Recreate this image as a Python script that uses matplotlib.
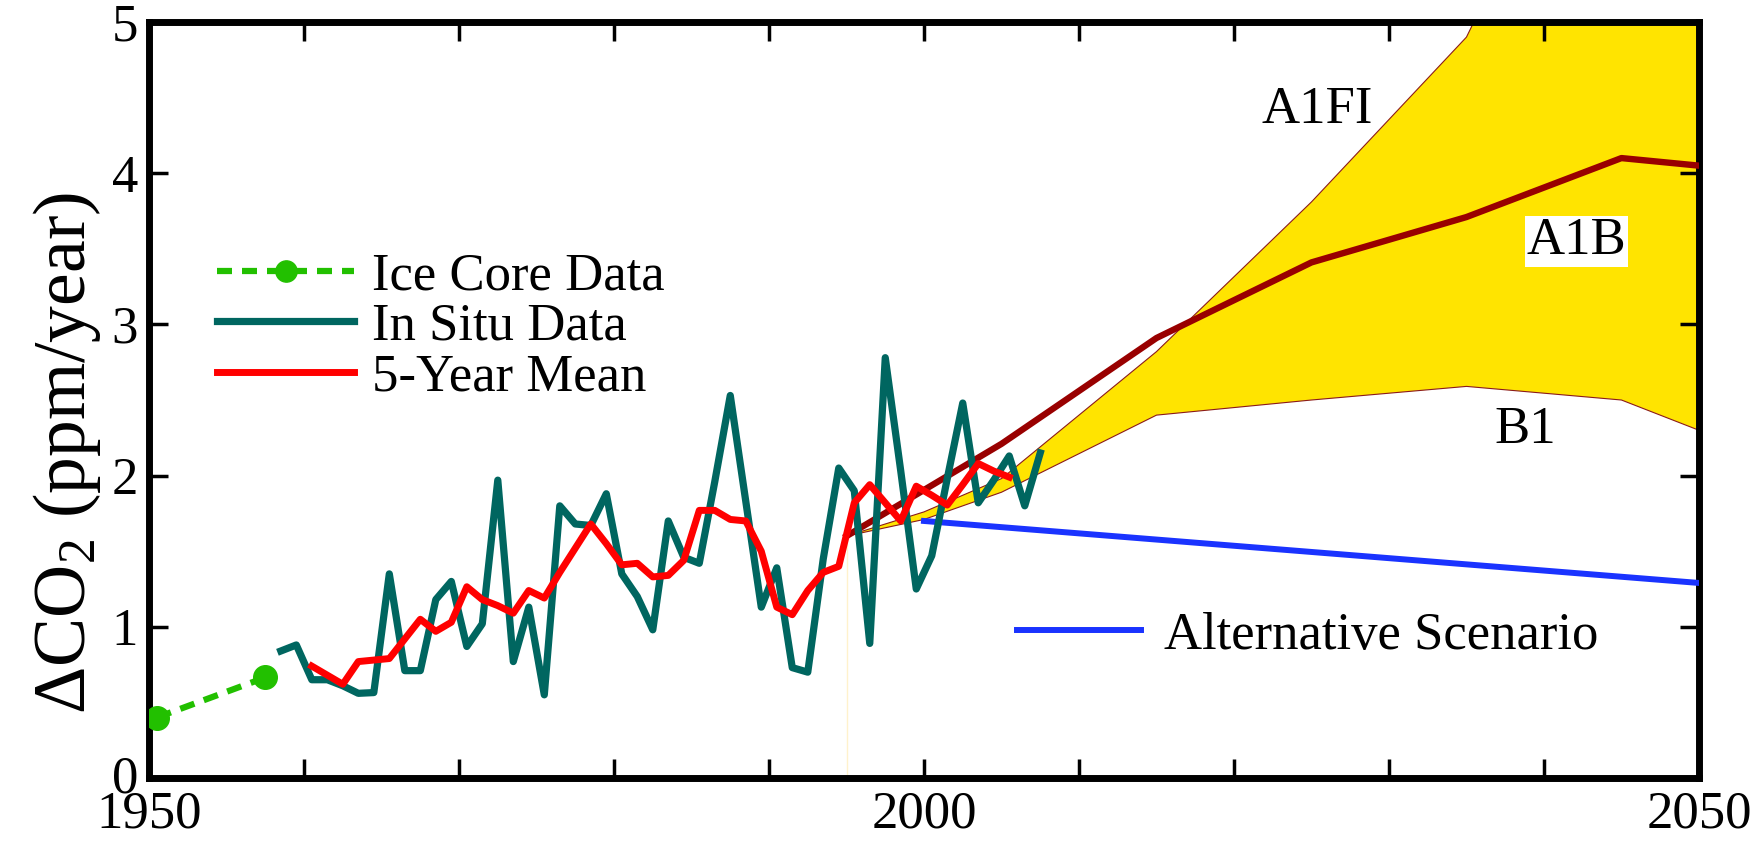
import numpy as np
import matplotlib
matplotlib.use("Agg")
import matplotlib.pyplot as plt
from matplotlib.lines import Line2D
from matplotlib.transforms import ScaledTranslation

plt.rcParams["font.family"] = ["Liberation Serif", "DejaVu Serif"]
plt.rcParams["mathtext.fontset"] = "custom"
plt.rcParams["mathtext.rm"] = "Liberation Serif"
plt.rcParams["mathtext.it"] = "Liberation Serif:italic"

# ── Data ─────────────────────────────────────────────────────────────────────
# ice core growth rates
ice_years = [1950.5, 1957.5]
ice_rate = [0.40, 0.665]

# in situ annual growth rate (ppm/yr), plotted at mid-year
insitu_years = np.arange(1958.5, 2008.0, 1.0)
insitu_rate = [0.84, 0.88, 0.65, 0.65, 0.61, 0.56, 0.565, 1.35, 0.71, 0.71,
               1.18, 1.30, 0.87, 1.02, 1.97, 0.77, 1.13, 0.55, 1.80, 1.68,
               1.67, 1.88, 1.35, 1.20, 0.98, 1.70, 1.46, 1.42, 1.96, 2.53,
               1.83, 1.13, 1.39, 0.73, 0.70, 1.45, 2.05, 1.90, 0.89, 2.78,
               2.03, 1.25, 1.47, 1.98, 2.48, 1.82, 1.97, 2.13, 1.80, 2.15]

# 5-year running mean
mean_years = np.arange(1960.5, 2006.0, 1.0)
mean_rate = [0.74, 0.68, 0.62, 0.77, 0.78, 0.79, 0.92, 1.05, 0.97, 1.03,
             1.265, 1.18, 1.14, 1.09, 1.24, 1.19, 1.36, 1.52, 1.68, 1.55,
             1.41, 1.42, 1.33, 1.34, 1.44, 1.77, 1.77, 1.71, 1.70, 1.50,
             1.13, 1.08, 1.24, 1.36, 1.40, 1.82, 1.94, 1.82, 1.70, 1.93,
             1.87, 1.805, 1.94, 2.08, 2.03, 1.99]

# IPCC scenario envelope (A1FI upper, B1 lower) and A1B
env_years = [1995.0, 2000, 2005, 2015, 2025, 2035, 2045, 2050]
a1fi = [1.60, 1.76, 1.98, 2.82, 3.81, 4.90, 7.0, 8.0]
b1 = [1.60, 1.71, 1.89, 2.40, 2.50, 2.59, 2.50, 2.30]
a1b_years = [1995.0, 2005, 2015, 2025, 2035, 2045, 2050]
a1b = [1.60, 2.21, 2.91, 3.41, 3.71, 4.10, 4.05]

# alternative scenario
alt_years = [2000, 2050]
alt_rate = [1.70, 1.29]

# ── Figure ───────────────────────────────────────────────────────────────────
fig = plt.figure(figsize=(17.58, 8.43), dpi=100)
ax = fig.add_axes([0.0848, 0.0771, 0.8816, 0.8968])

ax.fill_between(env_years, b1, a1fi, facecolor="#ffe400", edgecolor="none", zorder=1)
ax.plot(env_years, a1fi, color="#8b1a1a", lw=0.8, zorder=2)
ax.plot(env_years, b1, color="#8b1a1a", lw=0.8, zorder=2)
ax.plot([env_years[0], env_years[0]], [0, b1[0]], color="#fff2cc", lw=1.0, zorder=1)
ax.plot(a1b_years, a1b, color="#990000", lw=4.6, zorder=3)

ax.plot(alt_years, alt_rate, color="#1a33ff", lw=4.3, zorder=3)

ice_line, = ax.plot(ice_years, ice_rate, color="#22c000", lw=4.5,
                    linestyle=(0, (2.4, 1.6)), marker="o", markersize=17,
                    zorder=4)
insitu_line, = ax.plot(insitu_years, insitu_rate, color="#006660", lw=5.2,
                       zorder=5)
mean_line, = ax.plot(mean_years, mean_rate, color="#ff0000", lw=5.0, zorder=6)

ax.set_xlim(1950, 2050)
ax.set_ylim(0, 5)
ax.set_xticks(np.arange(1950, 2051, 10))
ax.set_xticklabels(["1950", "", "", "", "", "2000", "", "", "", "", "2050"])
ax.set_yticks(range(6))
ax.tick_params(direction="in", top=True, right=True, length=14, width=2.5,
               labelsize=38)
ax.tick_params(axis="x", pad=9)
ax.tick_params(axis="y", pad=8)
for s in ax.spines.values():
    s.set_linewidth(5)

# lift the "0" a touch so it clears the "1950" underneath
zero_lbl = ax.yaxis.get_major_ticks()[0].label1
zero_lbl.set_transform(zero_lbl.get_transform()
                       + ScaledTranslation(0, 3 / 72, fig.dpi_scale_trans))

ax.set_ylabel("ΔCO$_2$ (ppm/year)", fontsize=53)
ax.yaxis.set_label_coords(-0.03, 0.43)

# scenario names
ax.text(2025.4, 4.42, "A1FI", fontsize=38, ha="center", va="center")
ax.text(2042.1, 3.55, "A1B", fontsize=38, ha="center", va="center",
        bbox=dict(facecolor="white", edgecolor="none", pad=1))
ax.text(2038.8, 2.30, "B1", fontsize=38, ha="center", va="center")

leg = ax.legend([ice_line, insitu_line, mean_line],
                ["Ice Core Data", "In Situ Data", "5-Year Mean"],
                loc="center left", bbox_to_anchor=(0.044, 0.597),
                frameon=False, fontsize=38, handlelength=2.6,
                handletextpad=0.33, labelspacing=0.05, borderpad=0,
                borderaxespad=0, numpoints=1, markerscale=0.9)
ax.add_artist(leg)

alt_handle = Line2D([], [], color="#1a33ff", lw=4.3)
ax.legend([alt_handle], ["Alternative Scenario"], loc="center left",
          bbox_to_anchor=(0.56, 0.188), frameon=False, fontsize=38,
          handlelength=2.35, handletextpad=0.44, borderpad=0, borderaxespad=0)

fig.savefig("out.png", dpi=100)
